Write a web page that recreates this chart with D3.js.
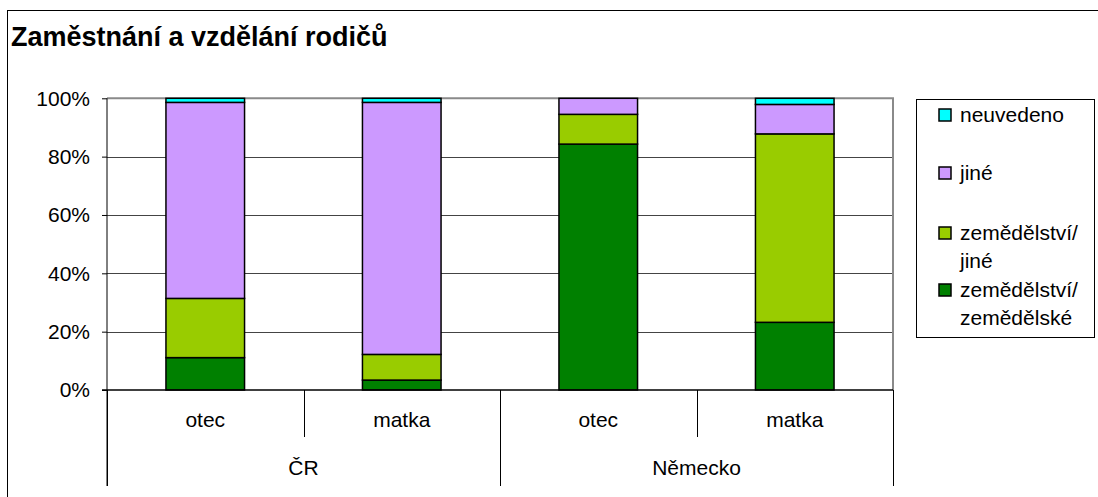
<!DOCTYPE html>
<html>
<head>
<meta charset="utf-8">
<script src="https://cdn.jsdelivr.net/npm/d3@7"></script>
<style>
  body { margin: 0; background: #fff; }
  svg text { font-family: "Liberation Sans", Arial, sans-serif; fill: #000; }
</style>
</head>
<body>
<div id="chart"></div>
<script>
// data (percent)
const countries = ['ČR', 'Německo'];
const parents = ['otec', 'matka', 'otec', 'matka'];
const barCountry = ['ČR', 'ČR', 'Německo', 'Německo'];
const zemZem = [11.1, 3.4, 84.3, 23.2];     // zemědělství/zemědělské
const zemJine = [20.3, 8.8, 10.2, 64.6];    // zemědělství/jiné
const jine = [67.2, 86.4, 5.5, 10.1];
const neuvedeno = [1.4, 1.4, 0, 2.1];
const yTicks = [0, 20, 40, 60, 80, 100];

const seriesKeys = ['zemZem', 'zemJine', 'jine', 'neuvedeno'];
const seriesColors = ['#008000', '#99cc00', '#cc99ff', '#00ffff'];
const legendLabels = [['neuvedeno'], ['jiné'], ['zemědělství/', 'jiné'], ['zemědělství/', 'zemědělské']];
const legendColors = ['#00ffff', '#cc99ff', '#99cc00', '#008000'];

const width = 1098, height = 497;
const plot = { left: 107, right: 893, top: 98.3, bottom: 390 };

const svg = d3.select('#chart').append('svg')
  .attr('width', width)
  .attr('height', height);

// outer chart frame
svg.append('rect')
  .attr('x', 7.5).attr('y', 10.5)
  .attr('width', 1100).attr('height', 500)
  .attr('fill', 'none').attr('stroke', '#000').attr('stroke-width', 1);

svg.append('text')
  .attr('x', 11).attr('y', 46)
  .attr('font-size', '27px')
  .attr('font-weight', 'bold')
  .text('Zaměstnání a vzdělání rodičů');

const table = parents.map((p, i) => ({
  i: i,
  zemZem: zemZem[i], zemJine: zemJine[i], jine: jine[i], neuvedeno: neuvedeno[i]
}));

const x = d3.scaleBand()
  .domain(d3.range(parents.length))
  .range([plot.left, plot.right])
  .paddingInner(0.6)
  .paddingOuter(0.3);

const y = d3.scaleLinear()
  .domain([0, 100])
  .range([plot.bottom, plot.top]);

// gridlines
svg.append('g')
  .selectAll('line')
  .data(yTicks.filter(t => t > 0 && t < 100))
  .enter().append('line')
  .attr('x1', plot.left).attr('x2', plot.right)
  .attr('y1', d => Math.round(y(d)) + 0.5).attr('y2', d => Math.round(y(d)) + 0.5)
  .attr('stroke', '#444').attr('stroke-width', 1);

// plot area border (top and right)
svg.append('path')
  .attr('d', `M${plot.left},${y(100)}H${plot.right}V${plot.bottom}`)
  .attr('fill', 'none').attr('stroke', '#8a8a8a').attr('stroke-width', 2);

// stacked bars
const stack = d3.stack().keys(seriesKeys);
const layers = stack(table);

svg.append('g')
  .selectAll('g')
  .data(layers)
  .enter().append('g')
  .attr('fill', (d, k) => seriesColors[k])
  .selectAll('rect')
  .data(d => d.filter(s => s[1] - s[0] > 0))
  .enter().append('rect')
  .attr('x', d => x(d.data.i))
  .attr('y', d => y(d[1]))
  .attr('width', x.bandwidth())
  .attr('height', d => y(d[0]) - y(d[1]))
  .attr('stroke', '#000')
  .attr('stroke-width', 1.5);

// y axis
const yAxis = svg.append('g')
  .attr('transform', `translate(${plot.left},0)`)
  .call(d3.axisLeft(y).tickValues(yTicks).tickFormat(d => d + '%').tickSize(5).tickPadding(12));
yAxis.select('.domain').remove();
yAxis.selectAll('line').attr('stroke', '#000');
yAxis.selectAll('text')
  .attr('font-size', '21px')
  .attr('font-family', '"Liberation Sans", Arial, sans-serif');

svg.append('line')
  .attr('x1', plot.left).attr('x2', plot.left)
  .attr('y1', plot.top).attr('y2', 486)
  .attr('stroke', '#000').attr('stroke-width', 1);

// category axis line
svg.append('line')
  .attr('x1', plot.left - 5).attr('x2', plot.right)
  .attr('y1', plot.bottom).attr('y2', plot.bottom)
  .attr('stroke', '#000').attr('stroke-width', 1.5);

// category separators and labels
const step = x.step();
const sepX = d3.range(parents.length + 1).map(k => plot.left + k * step);
svg.append('g')
  .selectAll('line')
  .data(sepX)
  .enter().append('line')
  .attr('x1', d => Math.round(d) + 0.5).attr('x2', d => Math.round(d) + 0.5)
  .attr('y1', plot.bottom)
  .attr('y2', (d, k) => (k % 2 === 0 ? 486 : 437))
  .attr('stroke', '#000').attr('stroke-width', 1);

svg.append('g')
  .selectAll('text')
  .data(parents)
  .enter().append('text')
  .attr('x', (d, i) => x(i) + x.bandwidth() / 2)
  .attr('y', 427)
  .attr('text-anchor', 'middle')
  .attr('font-size', '21px')
  .text(d => d);

svg.append('g')
  .selectAll('text')
  .data(countries)
  .enter().append('text')
  .attr('x', c => {
    const idx = barCountry.map((b, i) => b === c ? i : -1).filter(i => i >= 0);
    return (x(idx[0]) + x(idx[idx.length - 1]) + x.bandwidth()) / 2;
  })
  .attr('y', 475)
  .attr('text-anchor', 'middle')
  .attr('font-size', '21px')
  .text(d => d);

// legend
const legend = svg.append('g');
legend.append('rect')
  .attr('x', 916.5).attr('y', 99.5)
  .attr('width', 178).attr('height', 238)
  .attr('fill', '#fff').attr('stroke', '#000').attr('stroke-width', 1);

const legendY = [115, 173, 233, 290];
legendLabels.forEach((lines, k) => {
  legend.append('rect')
    .attr('x', 939).attr('y', legendY[k] - 6)
    .attr('width', 12).attr('height', 12)
    .attr('fill', legendColors[k])
    .attr('stroke', '#000').attr('stroke-width', 1.5);
  const t = legend.append('text')
    .attr('x', 960).attr('y', legendY[k] + 7)
    .attr('font-size', '21px');
  lines.forEach((ln, j) => {
    t.append('tspan')
      .attr('x', 960)
      .attr('dy', j === 0 ? 0 : 28)
      .text(ln);
  });
});
</script>
</body>
</html>
